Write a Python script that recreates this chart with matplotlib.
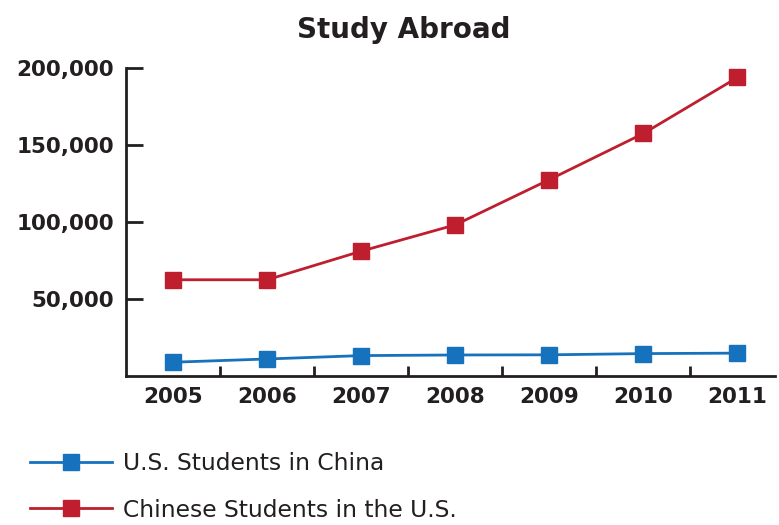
import numpy as np
import matplotlib.pyplot as plt

YEARS = ['2005', '2006', '2007', '2008', '2009', '2010', '2011']
US_IN_CHINA = [8900, 11000, 13200, 13600, 13700, 14500, 14800]
CHINESE_IN_US = [62500, 62500, 81100, 98200, 127600, 157600, 194000]
YTICKS = [50000, 100000, 150000, 200000]

BLUE = '#1772bd'
RED = '#be1e2d'
INK = '#231f20'

plt.rcParams['font.family'] = ['DejaVu Sans']

fig = plt.figure(figsize=(7.79, 5.25), dpi=100)
ax = fig.add_axes([0.162, 0.284, 0.833, 0.586])

x = np.arange(len(YEARS))
ax.plot(x, US_IN_CHINA, 's-', color=BLUE, lw=2, ms=11.5, clip_on=False,
        label='U.S. Students in China')
ax.plot(x, CHINESE_IN_US, 's-', color=RED, lw=2, ms=11.5, clip_on=False,
        label='Chinese Students in the U.S.')

ax.set_xlim(-0.5, 6.4)
ax.set_ylim(0, 200000)

# year labels sit under points, tick marks sit between years
ax.set_xticks(x[:-1] + 0.5)
ax.set_xticklabels([])
ax.set_xticks(x, minor=True)
ax.set_xticklabels(YEARS, minor=True, fontsize=15.5, fontweight='bold', color=INK)
ax.tick_params(axis='x', which='major', direction='in', length=7, width=2, color=INK)
ax.tick_params(axis='x', which='minor', length=0, pad=8)

ax.set_yticks(YTICKS)
ax.set_yticklabels(['{:,}'.format(v) for v in YTICKS], fontsize=15.5,
                   fontweight='bold', color=INK)
ax.tick_params(axis='y', direction='in', length=12, width=2, color=INK, pad=9)

for s in ['top', 'right']:
    ax.spines[s].set_visible(False)
for s in ['left', 'bottom']:
    ax.spines[s].set_linewidth(2)
    ax.spines[s].set_color(INK)

fig.text(0.518, 1 - 38 / 525, 'Study Abroad', ha='center', va='baseline',
         fontsize=20, fontweight='bold', color=INK)

fig.legend(loc='center left', bbox_to_anchor=(0.0385, 1 - 487 / 525), frameon=False,
           fontsize=16.8, handlelength=3.5, handletextpad=0.5, labelspacing=1.0,
           borderpad=0, borderaxespad=0, labelcolor=INK)

fig.savefig('out.png', dpi=100)
